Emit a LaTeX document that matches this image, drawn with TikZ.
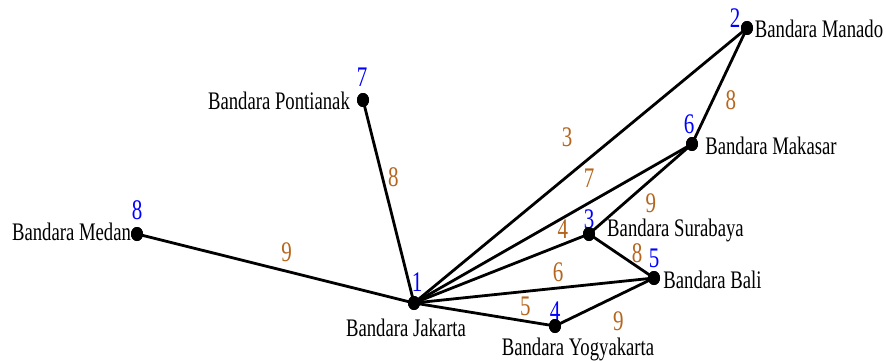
\documentclass[tikz,border=0pt]{standalone}
\usepackage{fontspec}
\setmainfont{Liberation Serif}
\usetikzlibrary{shapes, positioning, calc}
\definecolor{wbrown}{RGB}{181,101,29}
\tikzset{
    every node/.style={font=\fontsize{18.7}{20}\selectfont},
    city/.style={ellipse,fill=black,inner sep=0pt,minimum width=12pt,minimum height=14pt},
    place/.style={inner sep=0pt,yscale=1.35},
    num/.style={inner sep=0pt,yscale=1.35,text=blue,font=\fontsize{21}{22}\selectfont},
    weight/.style={inner sep=0pt,yscale=1.35,text=wbrown,font=\fontsize{21}{22}\selectfont}
}

\begin{document}
\begin{tikzpicture}[x=1pt,y=-1pt,line width=2.8pt]
  \useasboundingbox (0,0) rectangle (886,361);
  \foreach \i/\x/\y in {1/414/303, 2/747/28, 3/589/234, 4/555/326,
                        5/654/278, 6/692/144, 7/363/100, 8/137/234}
    \node[city] (\i) at (\x,\y) {};

  % jarak antar bandara
  \foreach \a/\b/\w/\p/\dx/\dy in {1/8/9/0.46/0/14, 1/7/8/0.62/11/0,
      1/2/3/0.46/0/29, 1/6/7/0.63/0/18.5, 1/3/4/0.85/0/11, 1/5/6/0.6/0/12,
      1/4/5/0.79/0/11, 2/6/8/0.62/18/0, 6/3/9/0.4/0/-17, 3/5/8/0.74/0/10,
      4/5/9/0.64/0/-19.5}
    \draw (\a.center) -- node[weight, pos=\p, xshift=\dx pt, yshift=\dy pt] (w\a\b) {\w} (\b.center);

  % nomor simpul
  \foreach \i/\x/\y in {1/417/282, 2/735/18, 3/589/219, 4/555/311,
                        5/654/258, 6/689/124, 7/362/77, 8/137/210}
    \node[num] (n\i) at (\x,\y) {\i};

  \foreach \i in {1,...,8}
    \node[city] at (\i) {};

  % nama bandara
  \node[place] (jkt) at (406,328)   {Bandara Jakarta};
  \node[place] (mdo) at (819,29)    {Bandara Manado};
  \node[place] (sby) at (675.5,230) {Bandara Surabaya};
  \node[place] (yog) at (578,349.5) {Bandara Yogyakarta};
  \node[place] (dps) at (712.5,280) {Bandara Bali};
  \node[place] (mks) at (771,146)   {Bandara Makasar};
  \node[place] (ptk) at (279,101)   {Bandara Pontianak};
  \node[place] (mdn) at (71.5,232)  {Bandara Medan};
\end{tikzpicture}
\end{document}
